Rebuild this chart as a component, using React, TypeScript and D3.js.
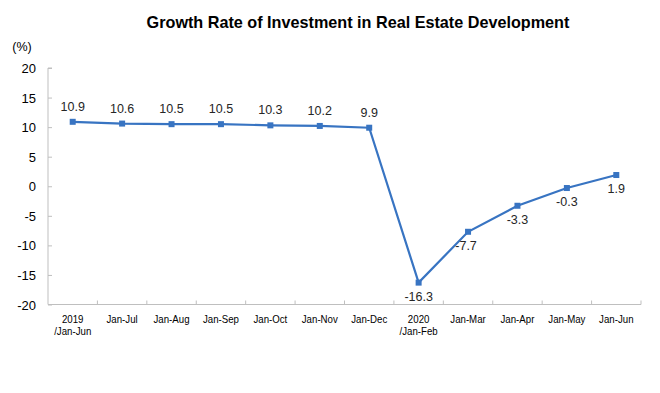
import React, { useEffect, useRef } from 'react';
import * as d3 from 'd3';

const categories = ['2019\n/Jan-Jun', 'Jan-Jul', 'Jan-Aug', 'Jan-Sep', 'Jan-Oct', 'Jan-Nov', 'Jan-Dec',
    '2020\n/Jan-Feb', 'Jan-Mar', 'Jan-Apr', 'Jan-May', 'Jan-Jun'];
const growth = [10.9, 10.6, 10.5, 10.5, 10.3, 10.2, 9.9, -16.3, -7.7, -3.3, -0.3, 1.9];
const yTicks = [20, 15, 10, 5, 0, -5, -10, -15, -20];
// which labels sit below their point
const labelBelow = [false, false, false, false, false, false, false, true, true, true, true, true];

export default function App() {
    const ref = useRef<SVGSVGElement>(null);

    useEffect(() => {
        const svg = d3.select(ref.current);
        svg.selectAll('*').remove();

        const left = 48, right = 641, top = 68, bottom = 304.5;
        const font = 'Liberation Sans, Arial, sans-serif';

        const x = d3.scaleBand<number>().domain(d3.range(categories.length)).range([left, right]);
        const y = d3.scaleLinear().domain([-20, 20]).range([bottom, top]);
        const cx = (i: number) => x(i)! + x.bandwidth() / 2;

        svg.append('text')
            .attr('x', 358).attr('y', 28)
            .attr('text-anchor', 'middle')
            .attr('font-family', font).attr('font-size', 16.2).attr('font-weight', 'bold')
            .text('Growth Rate of Investment in Real Estate Development');

        svg.append('text')
            .attr('x', 22).attr('y', 51)
            .attr('text-anchor', 'middle')
            .attr('font-family', font).attr('font-size', 12.5)
            .text('(%)');

        // y axis
        const yAxis = svg.append('g').attr('transform', `translate(${left},0)`)
            .call(d3.axisRight(y).tickValues(yTicks).tickSize(4).tickFormat(() => ''));
        yAxis.select('.domain').attr('stroke', '#bfbfbf').attr('d', `M4,${top}H0V${bottom}`);
        yAxis.selectAll('.tick line').attr('stroke', '#bfbfbf');

        svg.append('g').selectAll('text').data(yTicks).join('text')
            .attr('x', 36).attr('y', d => y(d) + 5)
            .attr('text-anchor', 'end')
            .attr('font-family', font).attr('font-size', 13)
            .text(d => d);

        // x axis
        const xAxis = svg.append('g').attr('transform', `translate(0,${bottom})`);
        xAxis.append('line').attr('x1', left).attr('x2', right).attr('stroke', '#bfbfbf');
        xAxis.selectAll('line.t').data(d3.range(categories.length)).join('line')
            .attr('class', 't')
            .attr('x1', i => x(i)! + x.bandwidth()).attr('x2', i => x(i)! + x.bandwidth())
            .attr('y1', 0).attr('y2', -4)
            .attr('stroke', '#bfbfbf');

        const xl = svg.append('g').selectAll('text').data(categories).join('text')
            .attr('text-anchor', 'middle')
            .attr('font-family', font).attr('font-size', 11)
            .attr('transform', (d, i) => `translate(${cx(i)},${bottom + 18}) scale(0.88,1)`);
        xl.each(function (d) {
            d.split('\n').forEach((part, k) => {
                d3.select(this).append('tspan').attr('x', 0).attr('dy', k === 0 ? 0 : 13).text(part);
            });
        });

        const line = d3.line<number>().x((d, i) => cx(i)).y(d => y(d));
        svg.append('path').datum(growth)
            .attr('fill', 'none').attr('stroke', '#3874c2').attr('stroke-width', 2.2)
            .attr('d', line);

        svg.append('g').selectAll('rect').data(growth).join('rect')
            .attr('x', (d, i) => cx(i) - 3).attr('y', d => y(d) - 3)
            .attr('width', 6).attr('height', 6)
            .attr('fill', '#3874c2');

        svg.append('g').selectAll('text').data(growth).join('text')
            .attr('x', (d, i) => cx(i) + (i === 8 ? -2 : 0))
            .attr('y', (d, i) => labelBelow[i] ? y(d) + 18 : y(d) - 11)
            .attr('text-anchor', 'middle')
            .attr('font-family', font).attr('font-size', 12.5)
            .attr('fill', '#262626')
            .text(d => d.toFixed(1));
    }, []);

    return (
        <svg ref={ref} width={660} height={393}
            style={{ position: 'absolute', left: 0, top: 0, background: '#fff' }} />
    );
}
